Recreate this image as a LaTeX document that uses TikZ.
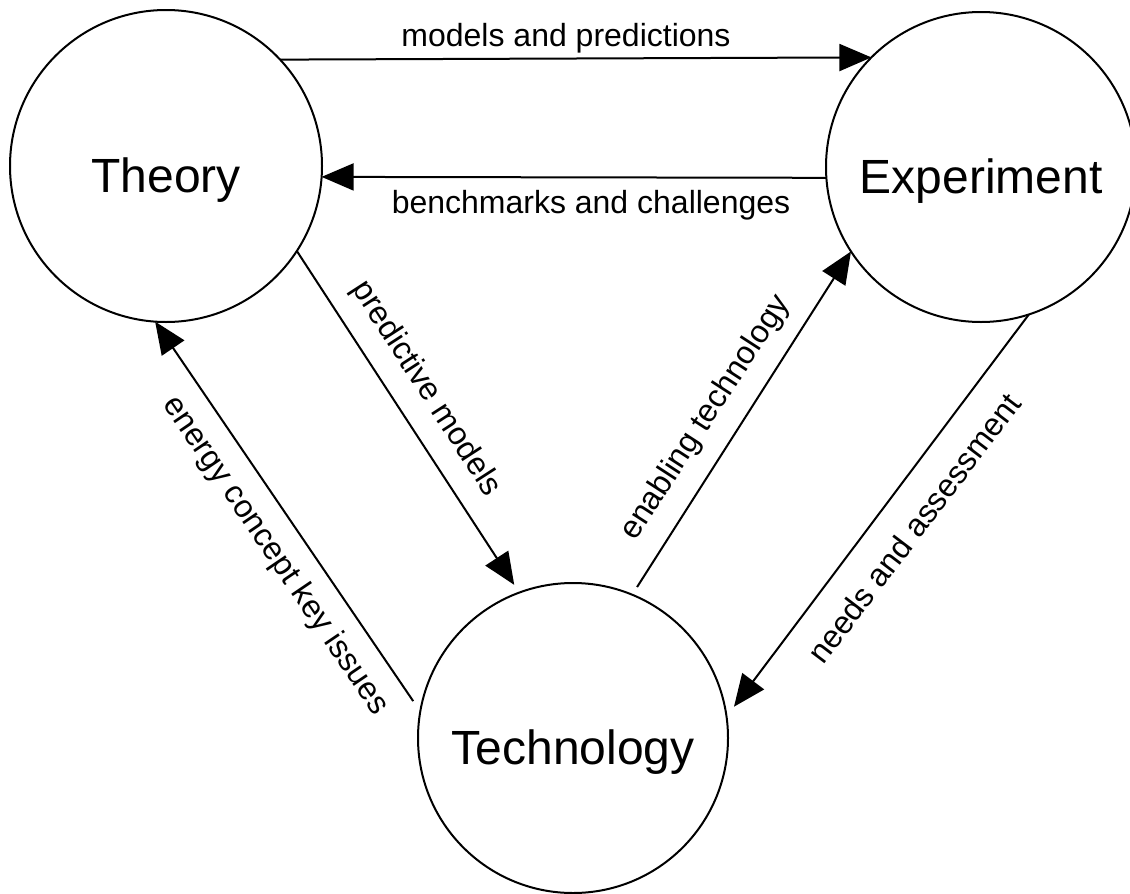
\documentclass[tikz,border=0pt]{standalone}
\usepackage{fontspec}
\setmainfont{Liberation Sans}
\usetikzlibrary{arrows.meta}
\begin{document}
\begin{tikzpicture}[x=1pt,y=-1pt,
  bubble/.style={circle,draw,line width=2pt,inner sep=0pt,outer sep=0pt,minimum size=#1},
  conn/.style={line width=2pt,-{Triangle[length=32pt,width=27pt]}},
  lab/.style={font=\fontsize{32}{38}\selectfont,inner sep=0pt},
  big/.style={font=\fontsize{48}{58}\selectfont,inner sep=0pt}]
\useasboundingbox (0,0) rectangle (1130,894);
\node[bubble=312pt] (th) at (166,166) {};
\node[bubble=310pt] (ex) at (981,167) {};
\node[bubble=310pt,outer sep=9pt] (tc) at (573,738) {};
\node[big] (thl) at (166,180) {Theory};
\node[big] (exl) at (981,181) {Experiment};
\node[big] (tcl) at (573,752) {Technology};
% connectors
\draw[conn] (th.43.8) -- (ex.135.3);
\draw[conn] (ex.184.5) -- (th.-4.8);
\draw[conn] (th.-33.4) -- (tc.111.4);
\draw[conn] (tc.167) -- (th.-94);
\draw[conn] (tc.67.7) -- (ex.213.9);
\draw[conn] (ex.-72.6) -- (tc.11.65);
% labels
\node[lab] (l1) at (566,38) {models and predictions};
\node[lab] (l2) at (591,205) {benchmarks and challenges};
\node[lab,rotate=-57.1] (l3) at (426,389) {predictive models};
\node[lab,rotate=-55.8] (l4) at (275,556) {energy concept key issues};
\node[lab,rotate=57] (l5) at (706,418) {enabling technology};
\node[lab,rotate=52.75] (l6) at (914,528) {needs and assessment};
\end{tikzpicture}
\end{document}
